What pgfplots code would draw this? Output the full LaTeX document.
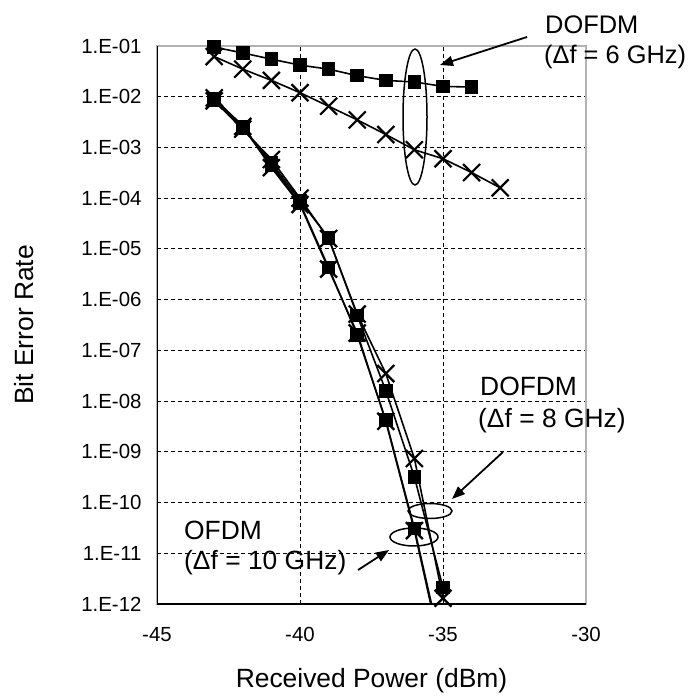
\documentclass[border=0pt]{standalone}
\usepackage{fontspec}
\setmainfont{Liberation Sans}
\usepackage{pgfplots}
\pgfplotsset{compat=1.18}
\usetikzlibrary{arrows.meta}

\begin{document}
\begin{tikzpicture}
\begin{axis}[
  at={(0,0)}, anchor=south west,
  width=429bp, height=558bp, scale only axis,
  xmin=-45, xmax=-30, ymin=1e-12, ymax=1e-1, ymode=log,
  xtick={-45,-40,-35,-30}, xticklabels={-45,-40,-35,-30},
  ytick={1e-12,1e-11,1e-10,1e-9,1e-8,1e-7,1e-6,1e-5,1e-4,1e-3,1e-2,1e-1},
  yticklabels={1.E-12,1.E-11,1.E-10,1.E-09,1.E-08,1.E-07,1.E-06,1.E-05,1.E-04,1.E-03,1.E-02,1.E-01},
  yminorticks=false,
  grid=major,
  major grid style={black, dash pattern=on 4bp off 3bp, line width=0.9bp},
  axis line style={draw=gray!60, line width=1.5bp},
  tick pos=left, tick align=inside, major tick length=4bp,
  tick style={black, line width=0.9bp},
  tick label style={font=\fontsize{20.5}{24}\selectfont},
  xticklabel style={yshift=-20bp},
  yticklabel style={xshift=-12bp},
  xlabel={Received Power (dBm)},
  ylabel={Bit Error Rate},
  label style={font=\fontsize{26.5}{30}\selectfont},
  xlabel style={at={(rel axis cs:0.5,0)}, anchor=center, yshift=-77bp},
  ylabel style={at={(rel axis cs:0,0.5)}, anchor=center, yshift=133bp},
  every axis plot/.append style={black, line width=1.6bp},
  mark options={solid},
]
% DOFDM 6 GHz, squares
\addplot[mark=square*, mark size=6bp] coordinates {
(-43,0.095)(-42,0.073)(-41,0.055)(-40,0.042)(-39,0.035)(-38,0.026)(-37,0.021)(-36,0.0195)(-35,0.016)(-34,0.0155)};
% DOFDM 6 GHz, crosses
\addplot[mark=x, mark size=12bp, mark options={line width=2.2bp}] coordinates {
(-43,0.062)(-42,0.035)(-41,0.021)(-40,0.012)(-39,0.0065)(-38,0.0035)(-37,0.0018)(-36,0.0009)(-35,0.0006)(-34,0.00032)(-33,0.00016)};
% DOFDM 8 GHz, squares
\addplot[mark=square*, mark size=6bp] coordinates {
(-43,8.7e-3)(-42,2.4e-3)(-41,5e-4)(-40,9e-5)(-39,1.65e-5)(-38,4.9e-7)(-37,1.6e-8)(-36,3.2e-10)(-35,2.1e-12)};
% DOFDM 8 GHz, crosses
\addplot[mark=x, mark size=12bp, mark options={line width=2.2bp}] coordinates {
(-43,8.3e-3)(-42,2.3e-3)(-41,5.8e-4)(-40,1e-4)(-39,1.6e-5)(-38,5.2e-7)(-37,3.5e-8)(-36,7.4e-10)(-35,1.3e-12)};
% OFDM 10 GHz, squares
\addplot[mark=square*, mark size=6bp, mark indices={1,2,3,4,5,6,7,8}] coordinates {
(-43,9e-3)(-42,2.5e-3)(-41,4.5e-4)(-40,8e-5)(-39,4.3e-6)(-38,2e-7)(-37,4.2e-9)(-36,3.1e-11)(-35,1e-13)};
% OFDM 10 GHz, crosses
\addplot[mark=x, mark size=12bp, mark options={line width=2.2bp}, mark indices={1,2,3,4,5,6,7,8}] coordinates {
(-43,9.5e-3)(-42,2.6e-3)(-41,4e-4)(-40,7.5e-5)(-39,4e-6)(-38,2.2e-7)(-37,4e-9)(-36,2.8e-11)(-35,8e-14)};
\draw[black, line width=1.5bp] (rel axis cs:0,1) -- (rel axis cs:0,0) -- (rel axis cs:1,0);
\end{axis}
\pgfresetboundingbox
\begin{scope}[x=1bp, y=-1bp, shift={(-157bp,604bp)}]
\path[use as bounding box] (0,0) rectangle (688,697);
% DOFDM 6 GHz
\draw[line width=1.5bp] (415,117) ellipse [x radius=12bp, y radius=68bp];
\draw[line width=1.8bp, -{Triangle[length=13bp,width=10bp]}] (527,37) -- (440,65);
\node[anchor=west, inner sep=0pt, font=\fontsize{25.5}{30}\selectfont] at (545,25) {DOFDM};
\node[anchor=west, inner sep=0pt, font=\fontsize{25.5}{30}\selectfont] at (544,57) {(Δf = 6 GHz)};
% DOFDM 8 GHz
\draw[line width=1.5bp] (430,511) ellipse [x radius=22bp, y radius=7.5bp];
\draw[line width=1.8bp, -{Triangle[length=13bp,width=10bp]}] (503,452) -- (452,499);
\node[anchor=west, inner sep=0pt, font=\fontsize{26.5}{30}\selectfont] at (480,386) {DOFDM};
\node[anchor=west, inner sep=0pt, font=\fontsize{26.5}{30}\selectfont] at (478,421) {(Δf = 8 GHz)};
% OFDM 10 GHz
\draw[line width=1.5bp] (414,537) ellipse [x radius=24bp, y radius=9bp];
\draw[line width=1.8bp, -{Triangle[length=13bp,width=10bp]}] (358,570) -- (389,550);
\node[anchor=west, inner sep=0pt, font=\fontsize{26.5}{30}\selectfont] at (184,530) {OFDM};
\node[anchor=west, inner sep=0pt, font=\fontsize{26.5}{30}\selectfont] at (184,563) {(Δf = 10 GHz)};
\end{scope}
\end{tikzpicture}
\end{document}
